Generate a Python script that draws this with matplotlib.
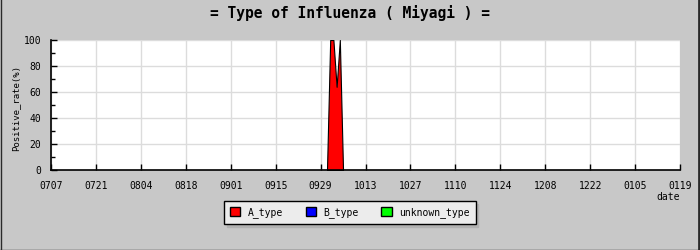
import numpy as np
import pandas as pd
import matplotlib
matplotlib.use("Agg")
import matplotlib.pyplot as plt
from matplotlib.patches import Patch
from matplotlib.lines import Line2D
from matplotlib.ticker import MultipleLocator

# ------------------------------------------------------------
# data
# ------------------------------------------------------------
dates = pd.to_datetime(["2013-10-01", "2013-10-02", "2013-10-03",
                        "2013-10-04", "2013-10-05", "2013-10-06"])
a_type = [0, 100, 100, 64, 100, 0]
b_type = [0, 0, 0, 0, 0, 0]
unknown_type = [0, 0, 0, 0, 0, 0]

tick_dates = pd.date_range("2013-07-07", "2014-01-19", freq="14D")
tick_labels = [d.strftime("%m%d") for d in tick_dates]

series = [("A_type", a_type, "#ff0000"),
          ("B_type", b_type, "#0000ff"),
          ("unknown_type", unknown_type, "#00ff00")]

# ------------------------------------------------------------
# plot
# ------------------------------------------------------------
mono = "DejaVu Sans Mono"
bg = "#c8c8c8"

fig = plt.figure(figsize=(7, 2.5), dpi=100, facecolor=bg)
ax = fig.add_axes([51 / 700, 80 / 250, 629 / 700, 130 / 250])
ax.set_facecolor("white")

# stacked areas; only series that actually have a value get an outline
base = np.zeros(len(dates))
for name, vals, color in series:
    top = base + np.array(vals)
    has_data = np.any(np.array(vals) > 0)
    ax.fill_between(dates, base, top, facecolor=color,
                    edgecolor="black" if has_data else "none",
                    linewidth=0.8, zorder=3)
    base = top

ax.set_xlim(tick_dates[0], tick_dates[-1])
ax.set_ylim(0, 100)
ax.set_xticks(tick_dates)
ax.set_xticklabels(tick_labels)
ax.yaxis.set_major_locator(MultipleLocator(20))
ax.yaxis.set_minor_locator(MultipleLocator(10))

ax.grid(True, color="#dcdcdc", linewidth=1, zorder=0)
ax.set_axisbelow(True)
for side in ("top", "right"):
    ax.spines[side].set_visible(False)
for side in ("left", "bottom"):
    ax.spines[side].set_linewidth(1.2)
    ax.spines[side].set_zorder(5)

ax.tick_params(axis="both", which="both", direction="in", colors="black",
               labelsize=7, width=1)
ax.tick_params(axis="x", length=4, pad=8)
ax.tick_params(axis="y", which="major", length=4, pad=7)
ax.tick_params(axis="y", which="minor", length=3)
for lab in ax.get_xticklabels() + ax.get_yticklabels():
    lab.set_fontfamily(mono)

ax.set_ylabel("Positive_rate(%)", fontfamily=mono, fontsize=6.5)
ax.yaxis.set_label_coords(-31 / 629, 0.48)

fig.text(0.5, 1 - 13 / 250, "= Type of Influenza ( Miyagi ) =",
         ha="center", va="center", fontfamily=mono, fontsize=10.5,
         fontweight="bold")
fig.text(680 / 700, 1 - 197 / 250, "date", ha="right", va="center",
         fontfamily=mono, fontsize=7)

handles = [Patch(facecolor=c, edgecolor="black", linewidth=1, label=n)
           for n, _, c in series]
leg = fig.legend(handles=handles, loc="center", ncol=3,
                 bbox_to_anchor=(350 / 700, 1 - 212.5 / 250),
                 prop={"family": mono, "size": 7},
                 handlelength=1.05, handleheight=1.05, handletextpad=0.8,
                 columnspacing=2.3, borderpad=0.6, fancybox=False,
                 shadow={"color": "#b2b2b2", "alpha": 1}, framealpha=1)
leg.get_frame().set_facecolor("#ececec")
leg.get_frame().set_edgecolor("black")
leg.get_frame().set_linewidth(1)

# outer frame of the image: thin left/bottom, heavier right
frame = dict(transform=fig.transFigure, color="#2a2a2a")
fig.lines.append(Line2D([0.5 / 700, 0.5 / 700], [0, 1], linewidth=1, **frame))
fig.lines.append(Line2D([0, 1], [0.5 / 250, 0.5 / 250], linewidth=1, **frame))
fig.lines.append(Line2D([698.5 / 700, 698.5 / 700], [0, 1], linewidth=2, **frame))

fig.savefig("out.png", dpi=100, facecolor=bg)
